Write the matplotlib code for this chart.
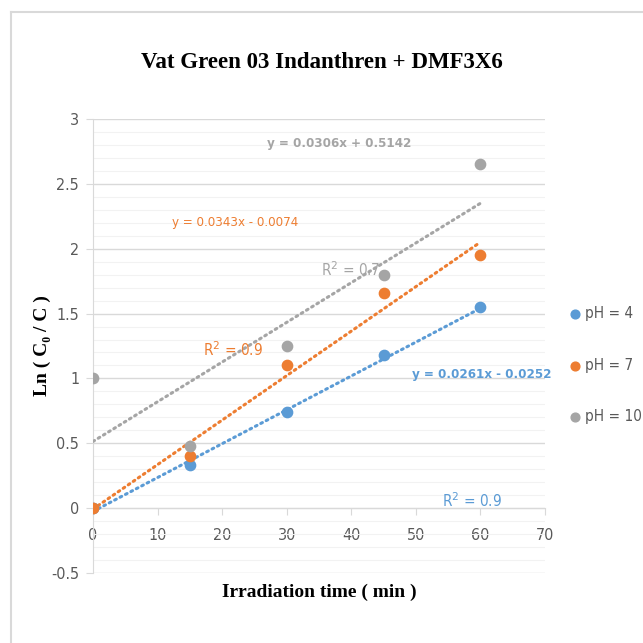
import numpy as np
import matplotlib.pyplot as plt
from matplotlib.ticker import MultipleLocator
from matplotlib.lines import Line2D

# irradiation time (min)
time_min = [0, 15, 30, 45, 60]

# ln(C0/C) per pH
ph4 = [0.0, 0.33, 0.74, 1.18, 1.55]
ph7 = [0.0, 0.40, 1.10, 1.66, 1.95]
ph10 = [1.0, 0.48, 1.25, 1.80, 2.65]

labels = ["pH = 4", "pH = 7", "pH = 10"]
colors = ["#5B9BD5", "#ED7D31", "#A5A5A5"]

# trendline coefficients as printed on the chart
slopes = [0.0261, 0.0343, 0.0306]
intercepts = [-0.0252, -0.0074, 0.5142]
eq_texts = ["y = 0.0261x - 0.0252", "y = 0.0343x - 0.0074", "y = 0.0306x + 0.5142"]
r2_texts = ["R$^2$ = 0.9", "R$^2$ = 0.9", "R$^2$ = 0.7"]

NARROW = ["DejaVu Sans"]
SERIF = ["Liberation Serif", "DejaVu Serif"]
TICK_GRAY = "#595959"
COND = dict(family=NARROW, stretch="condensed")

fig = plt.figure(figsize=(6.43, 6.43), dpi=100)

# chart-area border (top and left edges visible)
fig.add_artist(Line2D([11 / 643, 11 / 643], [0, 1 - 12 / 643],
                      transform=fig.transFigure, color="#d9d9d9", lw=1.5))
fig.add_artist(Line2D([11 / 643, 1], [1 - 12 / 643, 1 - 12 / 643],
                      transform=fig.transFigure, color="#d9d9d9", lw=1.5))

ax = fig.add_axes([93 / 643, 1 - 573 / 643, (545 - 93) / 643, (573 - 119) / 643])

series = [ph4, ph7, ph10]
xs = np.array([0, 60])
for vals, lab, col, m, b in zip(series, labels, colors, slopes, intercepts):
    ax.plot(xs, m * xs + b, color=col, ls=(0, (0.6, 1.4)), lw=2.2,
            dash_capstyle="round", zorder=3)
    ax.scatter(time_min, vals, s=55, color=col, label=lab, zorder=4)

# trendline labels
ax.text(38.2, 2.81, eq_texts[2], color="#A5A5A5", fontsize=9.5, fontweight="bold",
        ha="center", va="center", **COND)
ax.text(39.8, 1.84, r2_texts[2], color="#A5A5A5", fontsize=11,
        ha="center", va="center", **COND)
ax.text(22.0, 2.20, eq_texts[1], color="#ED7D31", fontsize=9.5,
        ha="center", va="center", **COND)
ax.text(21.7, 1.22, r2_texts[1], color="#ED7D31", fontsize=11,
        ha="center", va="center", **COND)
ax.text(60.2, 1.03, eq_texts[0], color="#5B9BD5", fontsize=9.5, fontweight="bold",
        ha="center", va="center", **COND)
ax.text(58.7, 0.06, r2_texts[0], color="#5B9BD5", fontsize=11,
        ha="center", va="center", **COND)

ax.set_xlim(0, 70)
ax.set_ylim(-0.5, 3)
ax.xaxis.set_major_locator(MultipleLocator(10))
ax.yaxis.set_major_locator(MultipleLocator(0.5))
ax.yaxis.set_minor_locator(MultipleLocator(0.1))
ax.yaxis.set_major_formatter(plt.FuncFormatter(lambda v, p: f"{v:g}"))

ax.grid(axis="y", which="major", color="#d9d9d9", lw=1.0, zorder=0)
ax.grid(axis="y", which="minor", color="#f2f2f2", lw=0.8, zorder=0)
ax.set_axisbelow(True)

for s in ["top", "right"]:
    ax.spines[s].set_visible(False)
ax.spines["bottom"].set_position(("data", 0))
ax.spines["bottom"].set_color("#d9d9d9")
ax.spines["left"].set_color("#d9d9d9")
ax.tick_params(axis="both", which="major", color="#d9d9d9", length=5,
               labelcolor=TICK_GRAY, labelsize=11.5)
ax.tick_params(axis="y", which="minor", length=0)
for lbl in ax.get_xticklabels() + ax.get_yticklabels():
    lbl.set_family(NARROW)
    lbl.set_stretch("condensed")
ax.tick_params(axis="x", pad=9)
ax.tick_params(axis="y", pad=5)

ax.set_xlabel("Irradiation time ( min )", family=SERIF, fontweight="bold",
              fontsize=14, va="center")
ax.xaxis.set_label_coords(0.5, -0.042)
ax.set_ylabel("Ln ( C₀ / C )", family=SERIF, fontweight="bold",
              fontsize=14, va="center")
ax.yaxis.set_label_coords(-0.113, 0.5)

fig.text(0.5, 1 - 62 / 643, "Vat Green 03 Indanthren + DMF3X6", family=SERIF,
         fontweight="bold", fontsize=16.5, ha="center", va="center")

leg = ax.legend(loc="center left", bbox_to_anchor=(1.045, 0.458), frameon=False,
                labelspacing=2.4, handletextpad=0.1, handlelength=1.2,
                borderaxespad=0, borderpad=0, markerscale=0.85,
                prop={"family": NARROW, "size": 11, "stretch": "condensed"})
for t in leg.get_texts():
    t.set_color(TICK_GRAY)

fig.savefig("out.png", dpi=100)
